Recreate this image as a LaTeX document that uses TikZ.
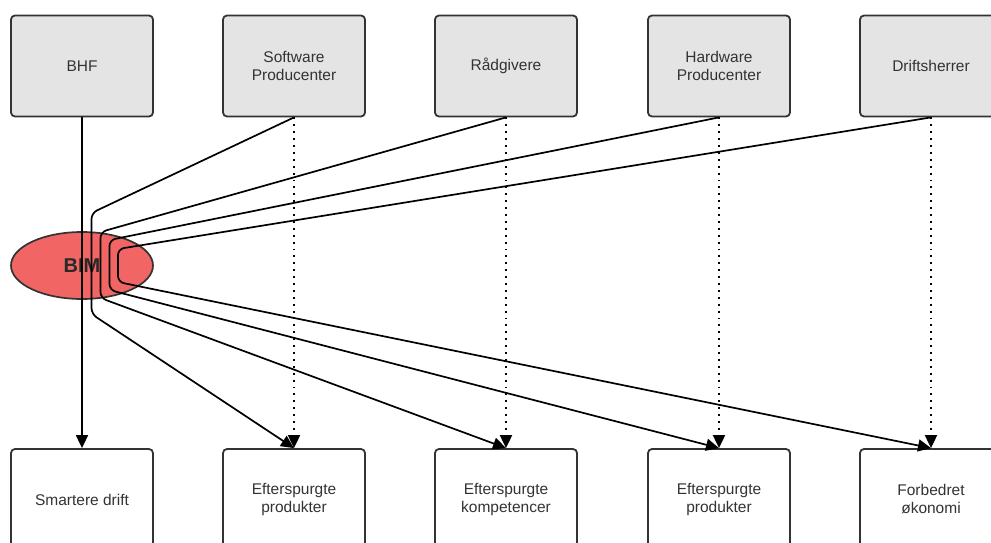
\documentclass[tikz,border=0pt]{standalone}
\usepackage{fontspec}
\setmainfont{Liberation Sans}
\usetikzlibrary{arrows.meta,shapes.geometric}
\definecolor{edge}{HTML}{333333}
\definecolor{topfill}{HTML}{E4E4E4}
\definecolor{bimred}{HTML}{F26565}
\begin{document}
\begin{tikzpicture}[x=1pt,y=-1pt,
  box/.style={draw=edge,line width=1.8pt,rounded corners=4pt,
    minimum width=142pt,minimum height=101pt,align=center,
    text=edge,font=\fontsize{15.5}{18}\selectfont},
  topbox/.style={box,fill=topfill},
  botbox/.style={box,fill=white},
  conn/.style={draw=black,line width=1.7pt,rounded corners=6pt,
    -{Triangle[length=13pt,width=12pt]}},
  flow/.style={draw=black,line width=1.9pt,dash pattern=on 1.9pt off 5pt,
    -{Triangle[length=13pt,width=12pt]}},
  main/.style={draw=black,line width=1.7pt,-{Triangle[length=13pt,width=12pt]}}]
\useasboundingbox (0,0) rectangle (991,543);
\begin{scope}
\clip (0,0) rectangle (991,543);
% actors along the top
\node[topbox] (bhf) at (82,66) {BHF};
\node[topbox] (sw)  at (294,66) {Software\\Producenter};
\node[topbox] (rad) at (506,66) {Rådgivere};
\node[topbox] (hw)  at (719,66) {Hardware\\Producenter};
\node[topbox] (dh)  at (931,66) {Driftsherrer};
% outcomes along the bottom
\node[botbox] (sd)  at (82,499.5) {Smartere drift};
\node[botbox] (ep1) at (294,499.5) {Efterspurgte\\produkter};
\node[botbox] (ek)  at (506,499.5) {Efterspurgte\\kompetencer};
\node[botbox] (ep2) at (719,499.5) {Efterspurgte\\produkter};
\node[botbox] (fo)  at (931,499.5) {Forbedret\\økonomi};
% BIM hub
\node[ellipse,draw=edge,line width=1.7pt,fill=bimred,minimum width=142pt,
  minimum height=67pt,inner sep=0pt,text=edge!80!black,
  font=\fontsize{20}{20}\bfseries\selectfont] (bim) at (82,265.5) {BIM};
% bend points of the routes through the hub
\coordinate (a1) at (91.5,213);  \coordinate (b1) at (91.5,314);
\coordinate (a2) at (100.5,232); \coordinate (b2) at (100.5,298);
\coordinate (a3) at (109.5,240); \coordinate (b3) at (109.5,290);
\coordinate (a4) at (118,249);   \coordinate (b4) at (118,282);
% routes through BIM
\draw[conn] (sw.south)  -- (a1) -- (b1) -- (ep1.north);
\draw[conn] (rad.south) -- (a2) -- (b2) -- (ek.north);
\draw[conn] (hw.south)  -- (a3) -- (b3) -- (ep2.north);
\draw[conn] (dh.south)  -- (a4) -- (b4) -- (fo.north);
% direct routes
\draw[main] (bhf.south) -- (sd.north);
\draw[flow] (sw.south)  -- (ep1.north);
\draw[flow] (rad.south) -- (ek.north);
\draw[flow] (hw.south)  -- (ep2.north);
\draw[flow] (dh.south)  -- (fo.north);
\end{scope}
\end{tikzpicture}
\end{document}
